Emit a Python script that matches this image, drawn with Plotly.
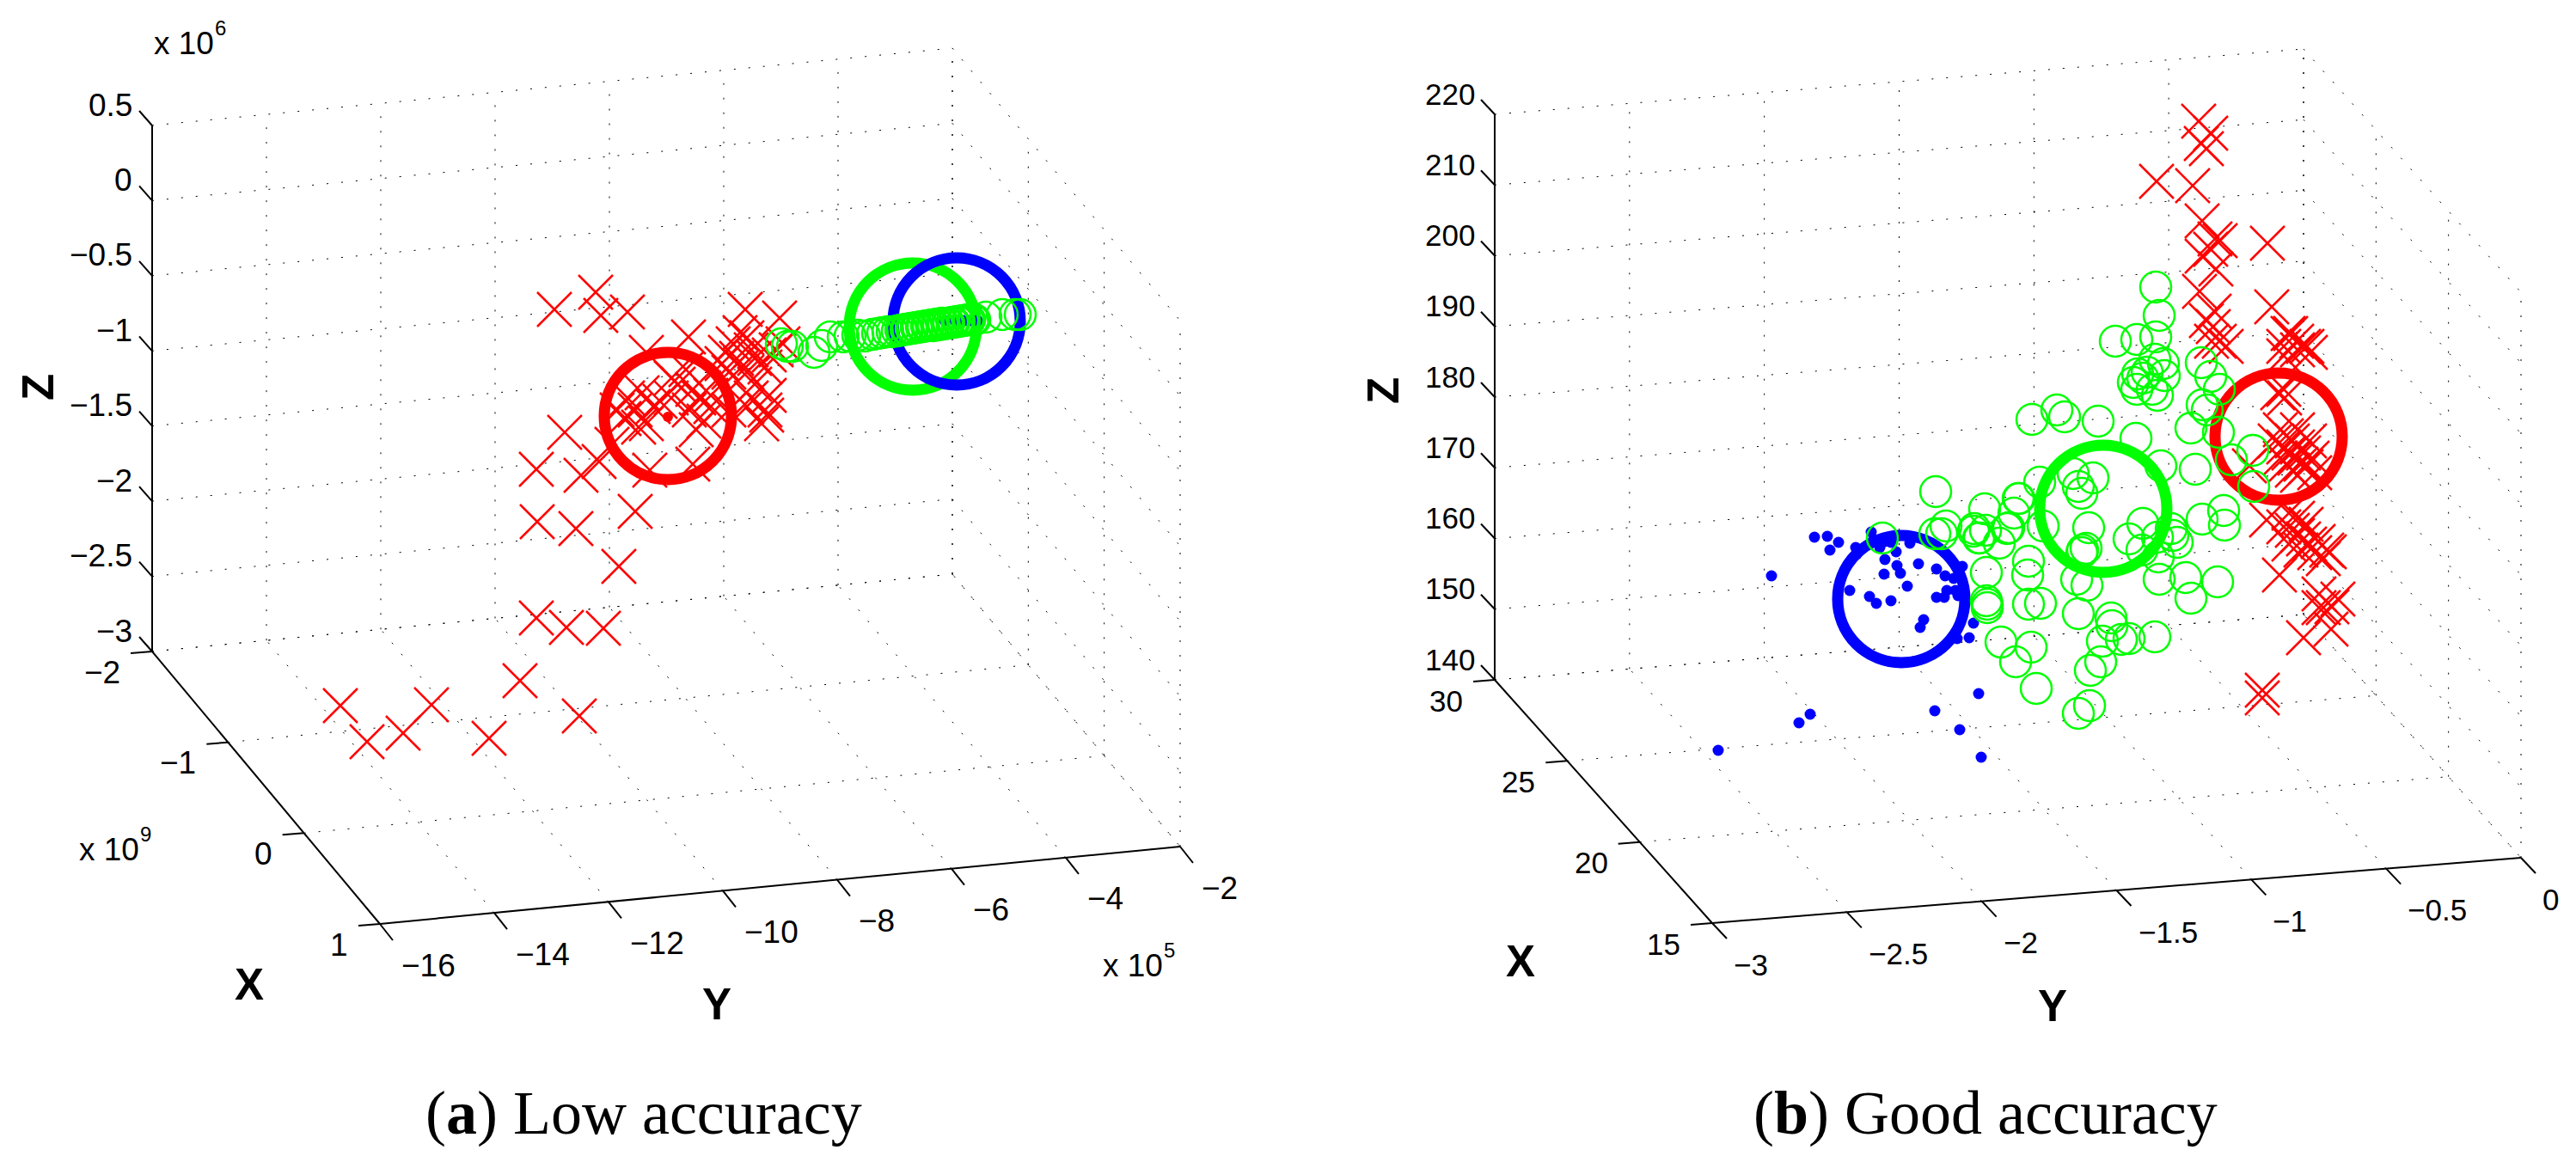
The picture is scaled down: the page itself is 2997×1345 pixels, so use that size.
import plotly.graph_objects as go

# ---------- tick values ----------
a_z_ticks = ["0.5", "0", "−0.5", "−1", "−1.5", "−2", "−2.5", "−3"]
a_y_ticks = ["−16", "−14", "−12", "−10", "−8", "−6", "−4", "−2"]
a_x_ticks = ["−2", "−1", "0", "1"]
b_z_ticks = ["220", "210", "200", "190", "180", "170", "160", "150", "140"]
b_y_ticks = ["−3", "−2.5", "−2", "−1.5", "−1", "−0.5", "0"]
b_x_ticks = ["30", "25", "20", "15"]

# ---------- values, on the projected plane (h, v) ----------
a_red_h = [396, 427, 469, 502, 569, 605, 674, 624, 659, 702, 720, 625, 670, 739, 624, 676, 657, 645, 693, 699, 730,
           867, 907, 801, 752, 861, 869, 853, 874, 844, 857, 840, 863, 878, 848, 869, 890, 895, 903, 911,
           892, 890, 874, 895, 878, 798, 747, 739, 726, 760, 819, 806, 730, 752, 718, 810, 756, 806, 712, 697, 743, 781, 827,
           802, 827, 813, 789, 781, 768, 848, 869, 886]
a_red_v = [821, 863, 853, 820, 859, 792, 833, 719, 730, 731, 659, 607, 615, 595, 546, 553, 503, 360, 340, 367, 363,
           360, 370, 392, 410, 387, 393, 400, 407, 410, 417, 423, 427, 417, 433, 433, 427, 413, 407, 400,
           483, 477, 463, 460, 447, 430, 457, 477, 487, 473, 490, 453, 463, 493, 477, 500, 547, 540, 517, 537, 497, 440, 460,
           477, 473, 463, 447, 463, 467, 477, 473, 493]
a_green_h = [909, 916, 922, 947, 956, 966, 981, 989, 998, 1006, 1015, 1021, 1027, 1033, 1038, 1044, 1050, 1056, 1062,
             1068, 1074, 1080, 1086, 1092, 1098, 1104, 1110, 1116, 1122, 1128, 1134, 1147, 1166, 1181, 1187,
             1048, 1054, 1060, 1066, 1072, 1078, 1084, 1090, 1096, 1102, 1108, 1114, 1120, 1126, 1132]
a_green_v = [400, 403, 403, 410, 402, 392, 392, 391, 390, 391, 389, 388, 387, 386, 386, 385, 384, 383, 382,
             381, 380, 379, 379, 378, 377, 376, 375, 374, 373, 372, 372, 369, 366, 366, 366,
             384, 383, 382, 381, 380, 379, 378, 377, 376, 376, 375, 374, 373, 372, 372]
a_blue_h = [1099, 1111, 1122, 1128, 1137]
a_blue_v = [373, 373, 373, 373, 373]
a_center_h = [777]
a_center_v = [485]
a_big_red_h, a_big_red_v = [777], [484]
a_big_green_h, a_big_green_v = [1062], [380]
a_big_blue_h, a_big_blue_v = [1113], [374]

b_red_h = [2558, 2561, 2567, 2572, 2509, 2551, 2562, 2572, 2583, 2577, 2638, 2578, 2562, 2559, 2576, 2643, 2575, 2567,
           2590, 2573, 2582, 2662, 2665, 2688, 2684, 2657, 2672, 2657, 2673, 2680, 2657, 2650, 2658, 2617,
           2660, 2667, 2673, 2657, 2663, 2670, 2680, 2653, 2660, 2677, 2683, 2690, 2647, 2687, 2667, 2673, 2693, 2653, 2673,
           2637, 2657, 2667, 2673, 2680, 2663, 2687, 2697, 2677, 2693, 2707, 2710, 2703, 2683, 2673, 2663,
           2652, 2698, 2720, 2713, 2703, 2698, 2712, 2680, 2632, 2632]
b_red_v = [141, 167, 173, 155, 211, 216, 257, 290, 280, 278, 283, 313, 298, 339, 362, 357, 380, 373,
           403, 397, 397, 388, 388, 410, 403, 414, 397, 403, 407, 403, 453, 457, 463, 542,
           507, 513, 520, 520, 527, 533, 527, 533, 540, 540, 543, 533, 513, 513, 547, 553, 550, 500, 500,
           605, 613, 617, 623, 627, 633, 633, 630, 640, 643, 640, 642, 650, 610, 603, 597,
           669, 691, 697, 706, 707, 707, 732, 742, 803, 812]
b_green_h = [2508, 2512, 2461, 2486, 2508, 2507, 2517, 2518, 2487, 2498, 2482, 2486, 2504, 2510, 2493,
             2561, 2572, 2582, 2562, 2568, 2549, 2581, 2596, 2621, 2622, 2554, 2514, 2485, 2441, 2393, 2402, 2364,
             2412, 2435, 2418, 2422, 2373, 2348, 2343, 2309, 2337, 2377, 2310, 2302, 2297, 2326, 2430,
             2493, 2477, 2526, 2528, 2533, 2510, 2492, 2511, 2562, 2587, 2588, 2427, 2423, 2422, 2360, 2359, 2311,
             2512, 2543, 2580, 2549, 2416, 2428, 2311, 2312, 2312, 2360, 2374, 2418, 2456, 2457, 2446, 2468, 2477, 2507,
             2328, 2363, 2345, 2369, 2444, 2432, 2431, 2418,
             2252, 2190, 2251, 2264, 2259, 2296, 2303, 2335, 2349]
b_green_v = [334, 367, 397, 395, 392, 418, 423, 437, 435, 433, 445, 453, 453, 460, 440,
             422, 438, 453, 471, 477, 498, 503, 535, 524, 566, 546, 542, 510, 490, 477, 485, 488,
             551, 556, 566, 574, 561, 580, 597, 592, 614, 612, 617, 626, 615, 632, 614,
             609, 627, 615, 623, 631, 625, 640, 648, 604, 594, 611, 638, 640, 643, 653, 669, 666,
             674, 672, 677, 696, 674, 681, 699, 703, 707, 703, 702, 714, 719, 728, 746, 744, 743, 741,
             747, 753, 770, 801, 770, 780, 821, 830,
             572, 626, 621, 612, 621, 618, 626, 615, 580]
b_blue_h = [1999, 2093, 2106, 2061, 2111, 2126, 2139, 2129, 2159, 2160, 2177, 2180, 2187, 2193, 2187, 2200, 2206, 2222,
            2193, 2207, 2211, 2192, 2232, 2253, 2219, 2152, 2175, 2183, 2200, 2238, 2234, 2283, 2263, 2273, 2265, 2275,
            2278, 2253, 2262, 2296, 2291, 2277, 2302, 2251, 2280, 2305]
b_blue_v = [873, 841, 831, 670, 625, 624, 631, 640, 637, 645, 619, 628, 632, 630, 637, 631, 642, 632,
            651, 658, 667, 668, 656, 662, 682, 687, 694, 702, 699, 721, 730, 659, 670, 673, 687, 687,
            693, 695, 695, 725, 742, 743, 807, 827, 849, 881]
b_big_red_h, b_big_red_v = [2651], [508]
b_big_green_h, b_big_green_v = [2447], [592]
b_big_blue_h, b_big_blue_v = [2212], [697]

RED, GREEN, BLUE = "#ff0000", "#00ff00", "#0000ff"
W, H = 2997, 1345
SPLIT = 1498
FONT = "Liberation Sans"

fig = go.Figure()
annotations = []


def lerp(p, q, t):
    return (p[0] + (q[0] - p[0]) * t, p[1] + (q[1] - p[1]) * t)


def segs(pairs):
    xs, ys = [], []
    for p, q in pairs:
        xs += [p[0], q[0], None]
        ys += [p[1], q[1], None]
    return xs, ys


def path(pairs, xa, ya, width, dash="solid"):
    xs, ys = segs(pairs)
    fig.add_trace(go.Scatter(x=xs, y=ys, xaxis=xa, yaxis=ya, mode="lines", hoverinfo="skip",
                             line=dict(color="black", width=width, dash=dash)))


def label(text, x, y, xa, ya, size, xanchor="center", **kw):
    annotations.append(dict(text=text, x=x, y=y, xref=xa, yref=ya, showarrow=False, xanchor=xanchor,
                            yanchor="middle", font=dict(family=kw.pop("family", FONT), size=size, color="black"),
                            borderpad=0, **kw))


def exponent(power, left, centre, xa, ya):
    label("x 10", left, centre, xa, ya, 37, "left")
    label(power, left + 71, centre - 18, xa, ya, 24, "left")


def frame(xa, ya, top, bottom, front, right, zt, yt, xt, fs, ytick, ztick):
    """top/bottom: ends of the vertical axis; front: corner of the two floor axes; right: far end of the Y axis."""
    dx, dy = right[0] - front[0], right[1] - front[1]
    back = (bottom[0] + dx, bottom[1] + dy)
    hgt = bottom[1] - top[1]
    up = lambda p: (p[0], p[1] - hgt)
    grid = []
    nz, ny, nx = len(zt), len(yt), len(xt)
    for i in range(nz):
        t = i / (nz - 1)
        a = lerp(top, bottom, t)
        b = (a[0] + dx, a[1] + dy)
        c = (b[0] + front[0] - bottom[0], b[1] + front[1] - bottom[1])
        grid += [(a, b), (b, c)]
    for i in range(ny):
        t = i / (ny - 1)
        f = lerp(front, right, t)
        g = lerp(bottom, back, t)
        grid += [(f, g), (g, up(g))]
    for i in range(nx):
        t = i / (nx - 1)
        f = lerp(bottom, front, t)
        g = (f[0] + dx, f[1] + dy)
        grid += [(f, g), (g, up(g))]
    path(grid, xa, ya, 1, "2px,15px")
    axes = [(top, bottom), (bottom, front), (front, right)]
    for i in range(nz):
        a = lerp(top, bottom, i / (nz - 1))
        axes.append((a, (a[0] + ztick[0], a[1] + ztick[1])))
        label(zt[i], a[0] - 22, a[1] - 24, xa, ya, fs, "right")
    for i in range(ny):
        a = lerp(front, right, i / (ny - 1))
        axes.append((a, (a[0] + ytick[0], a[1] + ytick[1])))
        label(yt[i], a[0] + 24, a[1] + 48, xa, ya, fs, "left")
    for i in range(nx):
        a = lerp(bottom, front, i / (nx - 1))
        axes.append((a, (a[0] - 25, a[1] + 2)))
        label(xt[i], a[0] - 36, a[1] + 24, xa, ya, fs, "right")
    path(axes, xa, ya, 2)


def marks(h, v, xa, ya, symbol, size, color, lw=0):
    fig.add_trace(go.Scatter(x=h, y=v, xaxis=xa, yaxis=ya, mode="markers", cliponaxis=False, hoverinfo="skip",
                             marker=dict(symbol=symbol, size=size, color=color,
                                         line=dict(color=color, width=lw))))


# ---------- panel (a) ----------
frame("x", "y", (177, 146), (177, 758), (442, 1075), (1373, 985),
      a_z_ticks, a_y_ticks, a_x_ticks, 37, (15, 19), (-15, -17))
marks(a_red_h, a_red_v, "x", "y", "x-thin-open", 40, RED, 2.5)
marks(a_center_h, a_center_v, "x", "y", "circle", 12, RED)
marks(a_big_red_h, a_big_red_v, "x", "y", "circle-open", 148, RED, 13)
marks(a_big_green_h, a_big_green_v, "x", "y", "circle-open", 148, GREEN, 13)
marks(a_big_blue_h, a_big_blue_v, "x", "y", "circle-open", 148, BLUE, 13)
marks(a_blue_h, a_blue_v, "x", "y", "circle", 13, BLUE)
marks(a_green_h, a_green_v, "x", "y", "circle-open", 36, GREEN, 2.5)

# ---------- panel (b) ----------
frame("x2", "y2", (1739, 133), (1739, 791), (1992, 1074), (2933, 998),
      b_z_ticks, b_y_ticks, b_x_ticks, 35, (17, 18), (-16, -17))
marks(b_red_h, b_red_v, "x2", "y2", "x-thin-open", 40, RED, 2.5)
marks(b_big_red_h, b_big_red_v, "x2", "y2", "circle-open", 148, RED, 13)
marks(b_big_green_h, b_big_green_v, "x2", "y2", "circle-open", 148, GREEN, 13)
marks(b_big_blue_h, b_big_blue_v, "x2", "y2", "circle-open", 148, BLUE, 13)
marks(b_blue_h, b_blue_v, "x2", "y2", "circle", 13, BLUE)
marks(b_green_h, b_green_v, "x2", "y2", "circle-open", 36, GREEN, 2.5)

# ---------- axis names, exponents, captions ----------
exponent("6", 178, 50, "x", "y")
exponent("9", 91, 988, "x", "y")
exponent("5", 1282, 1123, "x", "y")
label("<b>X</b>", 290, 1145, "x", "y", 51)
label("<b>Y</b>", 834, 1168, "x", "y", 51)
label("<b>Z</b>", 44, 451, "x", "y", 51, textangle=-90)
label("<b>X</b>", 1769, 1118, "x2", "y2", 51)
label("<b>Y</b>", 2388, 1170, "x2", "y2", 51)
label("<b>Z</b>", 1609, 455, "x2", "y2", 51, textangle=-90)
label("(<b>a</b>) Low accuracy", 749, 1295, "x", "y", 72, family="Liberation Serif")
label("(<b>b</b>) Good accuracy", 2310, 1295, "x2", "y2", 72, family="Liberation Serif")

hidden = dict(visible=False, showgrid=False, zeroline=False, fixedrange=True)
fig.update_layout(
    width=W, height=H, margin=dict(l=0, r=0, t=0, b=0), paper_bgcolor="white", plot_bgcolor="white",
    showlegend=False, annotations=annotations,
    xaxis=dict(domain=[0, SPLIT / W], range=[0, SPLIT], **hidden),
    yaxis=dict(domain=[0, 1], range=[H, 0], **hidden),
    xaxis2=dict(domain=[SPLIT / W, 1], range=[SPLIT, W], anchor="y2", **hidden),
    yaxis2=dict(domain=[0, 1], range=[H, 0], anchor="x2", **hidden),
)
fig.write_html("out.html", post_script="document.body.style.margin='0';document.body.style.overflow='hidden';",
               config={"displayModeBar": False})
